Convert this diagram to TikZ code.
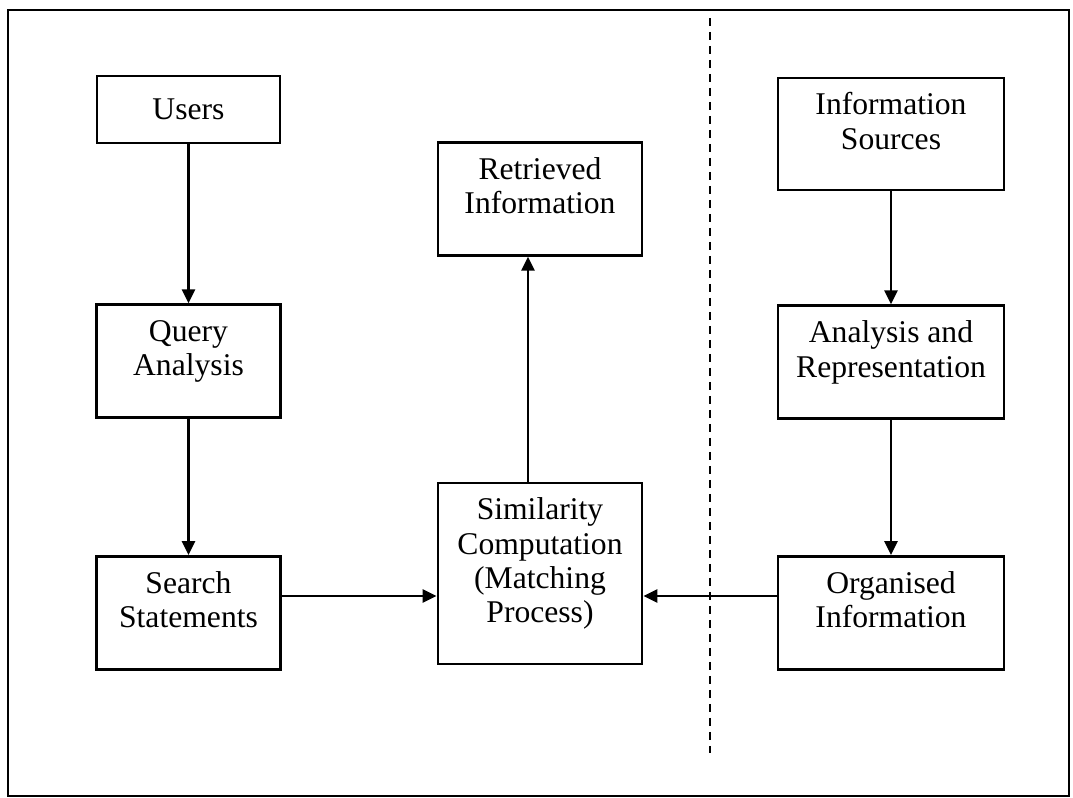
\documentclass[tikz,border=0pt]{standalone}
\usepackage{fontspec}
\setmainfont{Liberation Serif}
\usepackage{tikz}
\usetikzlibrary{positioning,arrows.meta}

\tikzset{
  blk/.style={draw, line width=1.6pt, align=center, inner sep=2pt, font=\fontsize{18}{19.5}\selectfont},
  lift/.style={text depth=15pt},
  flow/.style={line width=1.4pt, -{Triangle[length=0.28cm,width=0.26cm]}},
  divider/.style={line width=1.3pt, dash pattern=on 0.16cm off 0.12cm}
}

\begin{document}
\begin{tikzpicture}[x=0.02cm,y=-0.02cm]
\useasboundingbox (0,0) rectangle (1073,798);
\draw[line width=1.4pt] (8,10) rectangle (1069,796);

% left column
\node[blk, minimum width=3.66cm, minimum height=1.34cm] (users) at (188.5,109.5) {Users};
\node[blk, lift, minimum width=3.68cm, minimum height=2.26cm, below=3.18cm of users] (query) {Query\\Analysis};
\node[blk, lift, minimum width=3.68cm, minimum height=2.26cm, below=2.72cm of query] (search) {Search\\Statements};

% middle column
\node[blk, lift, minimum width=4.08cm, minimum height=3.62cm] (simil) at (540,573.5) {Similarity\\Computation\\(Matching\\Process)};
\node[blk, lift, minimum width=4.08cm, minimum height=2.26cm, above=4.5cm of simil] (retrieved) {Retrieved\\Information};

% right column
\node[blk, lift, minimum width=4.52cm, minimum height=2.24cm] (sources) at (891,134) {Information\\Sources};
\node[blk, lift, minimum width=4.52cm, minimum height=2.26cm, below=2.26cm of sources] (analysis) {Analysis and\\Representation};
\node[blk, lift, minimum width=4.52cm, minimum height=2.26cm, below=2.7cm of analysis] (organised) {Organised\\Information};

\coordinate (row) at (0,596); \coordinate (divtop) at (710,18); \coordinate (divbot) at (710,753);
\draw[divider] (divtop) -- (divbot);

\draw[flow] (users) -- (query);
\draw[flow] (query) -- (search);
\draw[flow] (sources) -- (analysis);
\draw[flow] (analysis) -- (organised);
\draw[flow] (search.east |- row) -- (simil.west |- row);
\draw[flow] (organised.west |- row) -- (simil.east |- row);
\draw[flow] ([xshift=-0.24cm]simil.north) -- ([xshift=-0.24cm]retrieved.south);
\end{tikzpicture}
\end{document}
